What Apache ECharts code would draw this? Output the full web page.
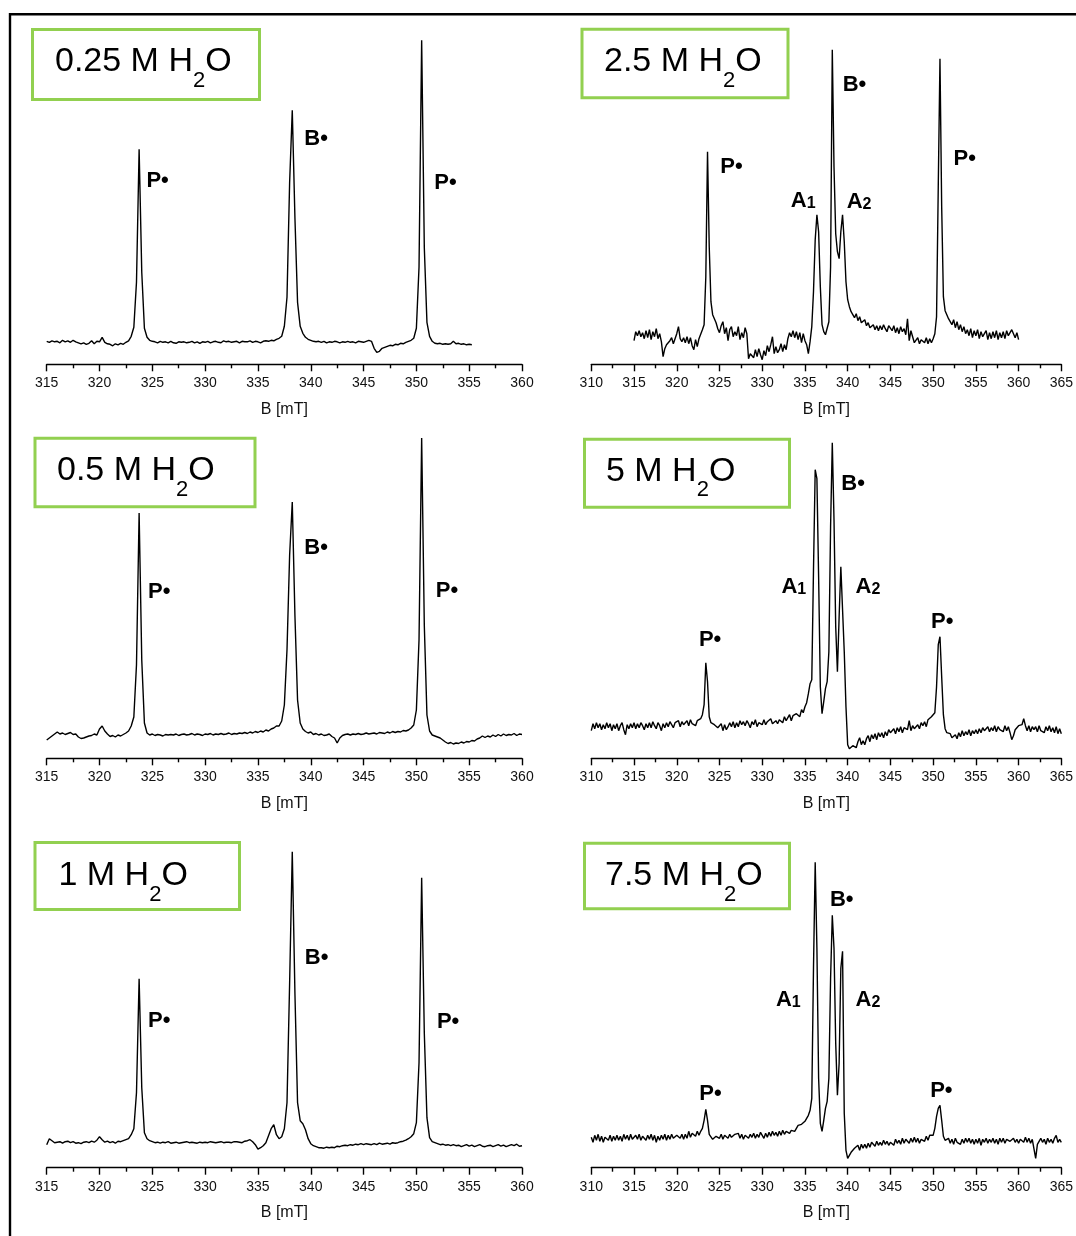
<!DOCTYPE html>
<html>
<head>
<meta charset="utf-8">
<script src="https://cdn.jsdelivr.net/npm/echarts@6/dist/echarts.min.js"></script>
<style>
html,body{margin:0;padding:0;background:#fff;}
#chart{width:1076px;height:1236px;}
</style>
</head>
<body>
<div id="chart"></div>
<script>
// ---------------- DATA (intensities in a.u., baseline = 0) ----------------
// Left-column spectra: sampled every 0.25 mT starting at 315 mT
const field025 = [315, 0.25];
const int025 = [
 1,0,1.5,0.5, 1,-0.5,2,0.5, 1.5,0,2,0.5, -0.5,-1.5,-0.5,-2, -1,1.5,-1.5,1,
 0.5,5,0,-1.5, -2,-3.5,-1.5,-2.5, -1,-2,0,1.5, 6,15,60,193, 70,14,5,2,
 1,0.5,-0.5,1, 0,0.5,-0.5,1, -0.5,-1,0.5,0, 0.5,-0.5,0,1, -0.5,0.5,-1,0.5,
 0,1,-0.5,0.5, 1,0,-0.5,1.5, 0.5,1,0,0.5, 1,-0.5,1,0.5, 0.5,1.5,0,1,
 0.5,-0.5,1,1.5, 1,2,1.5,3, 4,6,16,45, 160,232,125,40, 16,9,5,3,
 2,1,0.5,1, 0,1,-0.5,0.5, 0,1,0.5,-0.5, 0.5,0,1,0, 0.5,-0.5,1,0.5,
 0,1,2,1, -6,-10,-9,-6, -5,-4,-3,-3.5, -2,-2.5,-1,-1.5, 0,1,2,4,
 14,75,302,95, 20,6,1,-1, -1.5,-1,-2,-1.5, -2,-1.5,1,-1.5, -1,-2,-1.5,-2.5,
 -2,-2.5
];
const field05 = [315, 0.25];
const int05 = [
 -5,-3,-1,1, 3,1,2,0.5, 1.5,2.5,0.5,1, -2,-3.5,-3,-2, -1,-0.5,1,0,
 6,9,4,1, -1.5,-0.5,-2,0, -1,0.5,2,4, 9,18,70,222, 75,12,2,0,
 1,-0.5,0.5,0, -1,0.5,0,0.5, 0,1,-0.5,0.5, 1,0,0.5,1.5, 0,1,0.5,-0.5,
 1,0.5,1.5,0, 1,0.5,1.5,0.5, 1,2,0.5,1.5, 1,2,1.5,2.5, 1.5,3,2,3.5,
 2.5,4,3,5, 4,6,7,9, 9,14,30,85, 180,233,120,35, 12,6,3.5,2,
 3,0.5,1.5,0, 1,-0.5,0,1, -1.5,-3,-8,-3, -0.5,0.5,1,0, 1,0.5,1.5,0.5,
 1,2,1,1.5, 2,1,2.5,2, 1.5,3,2,3.5, 2.5,3.5,3,4.5, 4,5,7,10,
 25,95,297,110, 20,4,0,-1, -2,-3,-5,-7, -8.5,-7.5,-9,-8, -8.5,-7,-8,-6.5,
 -7,-5.5,-6,-4, -3,-1,-2.5,-1, -2,0,-1.5,0.5, -1,1,-0.5,0.5, 0,1.5,-0.5,1,
 0.5
];
const field1 = [315, 0.25];
const int1 = [
 -2,4,2,0, 0.5,1,-0.5,1, 1.5,0,1,-0.5, 0,-1,0.5,1, 0,1.5,0.5,2.5,
 6,3,0.5,1.5, 0,1,-0.5,1.5, 1,2,3,4, 8,14,50,164, 55,10,4,2,
 1,0,0.5,-0.5, 0.5,0,1,-0.5, 0,0.5,-0.5,0, 0.5,1,0,0.5, 0,-0.5,0.5,0,
 0.5,0,1,0.5, 0,0.5,1,0, 0.5,0.5,0,1, 1,0.5,0,1.5, 2,3,1,-2,
 -6.5,-5,-3,0, 7,14,18,8, 4,6,14,40, 160,291,150,40, 22,19,13,4,
 -1,-3,-4,-5, -5,-5.5,-4.5,-5, -4.5,-5,-3.5,-4, -3,-2.5,-3,-2, -2.5,-1.5,-2,-1,
 -2,-1,-1.5,-2, -1,-2,-0.5,-1.5, -1,-0.5,-1.5,0, -0.5,0,1,1.5, 2.5,4,6,9,
 20,80,265,110, 25,5,1,0, -1,-2,-1.5,-2.5, -2,-3,-2,-3, -2.5,-4,-3,-2,
 -3.5,-2.5,-4,-3, -2,-3.5,-4,-3, -2.5,-4,-3,-2, -3.5,-2.5,-4,-3, -2,-3,-1.5,-3.5,
 -3
];
// Right-column spectra: sampled every 0.2 mT
const field25 = [315, 0.2];
const int25 = [
 -4,5,1,6,0, 4,-2,6,-1,7, -3,5,0,8,-2, 3,-5,-20,-12,-8, -10,-4,-1,-7,-2,
 3,10,-2,-5,-1, -6,0,-7,-1,-9, -13,-3,-10,-2,0, 7,12,60,185,90, 35,22,18,14,8,
 4,11,15,3,9, -4,7,10,0,5, 1,10,-3,4,-1, 9,3,-22,-17,-16, -21,-13,-20,-12,-18,
 -23,-14,-19,-9,-15, -8,0,-17,-10,-16, -13,-7,-15,-8,-13, -2,4,0,6,-1, 5,-3,4,-6,3,
 -4,-8,-17,-5,10, 45,97,122,105,50, 12,5,2,4,15, 70,287,170,103,85, 78,105,122,95,55,
 37,30,25,27,19, 23,16,20,14,14, 17,11,14,9,10, 12,7,11,6,11, 7,12,8,5,11,
 9,6,11,4,9, 3,10,5,8,2, 18,-4,6,0,-6, -8,-1,-7,-3,-2, -6,-1,-7,-2,-6,
 -2,3,20,150,278, 130,40,26,22,18, 18,12,17,9,15, 7,12,5,10,3, 7,1,8,-1,6,
 1,7,-2,5,0, -1,6,-3,4,-2, 5,-1,6,-3,4, -1,5,-2,6,1, 0,7,8,-1,4,
 -3
];
const field5 = [310, 0.2];
const int5 = [
 -4,3,-2,4,-1, 3,-3,2,-2,4, -1,3,-4,2,-2, 3,-4,1,4,-3, -8,2,-2,3,-1,
 4,-2,3,-1,4, 1,-3,3,-1,4, -1,5,1,-2,4, 1,-4,3,-1,4, 0,5,2,-1,4,
 2,6,0,5,2, 4,6,1,7,3, 5,1,6,7,8, 12,22,64,45,10, 4,6,2,1,-1,
 -2,3,-4,2,-3, 0,4,0,5,-1, 4,0,6,2,5, 1,6,3,-1,5, 2,7,0,4,6,
 2,7,2,5,4, 8,3,1,6,3, 7,9,4,10,6, 8,12,6,11,9, 13,15,10,17,14,
 20,24,33,43,47, 157,257,248,150,40, 13,25,38,45,75, 200,284,207,100,55, 110,160,160,75,20,
 -18,-22,-20,-19,-21, -21,-15,-11,-18,-14, -18,-12,-9,-15,-8, -12,-7,-13,-6,-10, -6,-11,-5,-9,-3,
 -6,-8,-2,-7,-1, -5,0,-6,-1,1, -3,6,-4,1,-2, -3,2,-2,4,1, 5,0,7,8,10,
 10,14,40,82,90, 50,12,-2,-6,-8, -7,-11,-13,-8,-12, -6,-10,-4,-9,-5, -8,-3,-9,-4,-7,
 -3,-7,-2,-6,-1, -4,-6,0,-5,-1, -4,1,-5,0,-3, -1,-5,1,-4,0, -6,-13,-9,-3,-1,
 1,3,2,8,1, -4,1,-5,0,-3, 0,-5,1,-4,-2, -6,0,-4,1,-5, -1,-6,0,-7,-2,
 -7
];
const field75 = [310, 0.2];
const int75 = [
 1,-4,3,-2,4, -3,2,-4,1,3, -2,3,-3,2,-2, 3,-2,2,-3,4, -1,3,-2,4,-1,
 -2,3,-1,4,-2, 2,4,-2,3,-1, 4,-2,3,-4,2, -2,3,-1,4,-2, 3,-1,4,0,-2,
 3,5,0,4,-1, 4,0,7,1,5, 6,2,7,3,7, 10,18,29,18,4, 2,-1,-3,2,4,
 0,4,-1,3,5, 0,4,1,-1,4, 3,5,0,4,-1, 3,5,0,4,1, 5,0,4,1,6,
 4,0,5,1,6, 2,7,3,6,2, 7,3,8,4,7, 9,5,8,10,7, 10,13,15,14,16,
 17,20,23,28,40, 170,276,190,60,15, 7,18,30,37,60, 160,223,190,95,43, 75,170,187,25,-12,
 -20,-17,-14,-12,-10, -11,-7,-12,-6,-10, -6,-10,-5,-9,-4, -6,-8,-3,-7,-4, -7,-2,-6,-3,-7,
 -4,-2,-7,-1,-5, -2,-6,0,-5,-1, -1,-5,0,-4,1, -4,0,-5,-1,1, -3,2,-2,3,5,
 3,10,22,30,33, 18,2,-2,-4,0, -5,-1,-6,0,-4, -2,-6,-1,-5,0, -4,0,-5,-1,-6,
 -1,-5,0,-7,-1, -4,0,-5,-1,-4, 0,-5,-1,-6,0, -4,0,-5,-1,1, -3,-5,0,-4,-1,
 -5,-1,0,-4,1, -4,0,-5,-1,-2, -20,-6,-3,0,-4, -1,-6,0,-4,-1, -5,0,3,-4,-1,
 -4
];
// Peak annotations: [text, B (mT), intensity]
const lab025 = [['P•',325.5,162],['B•',340.5,204],['P•',352.75,160]];
const lab05  = [['P•',325.65,144],['B•',340.5,188],['P•',352.9,145]];
const lab1   = [['P•',325.65,122.7],['B•',340.55,186],['P•',353.0,122]];
const lab25  = [['P•',326.4,170.7],['A1',334.8,136.7],['B•',340.8,252.7],['A2',341.33,135.7],['P•',353.7,179]];
const lab5   = [['P•',323.9,87.7],['A1',333.7,141],['B•',340.63,243.7],['A2',342.38,141],['P•',351.07,106]];
const lab75  = [['P•',323.95,45.3],['A1',333.05,139.3],['B•',339.3,239.3],['A2',342.38,139.3],['P•',350.96,48.3]];
// Sample labels
const titles = ['0.25 M H','2.5 M H','0.5 M H','5 M H','1 M H','7.5 M H'];
const xTicksLeft = [315, 360];
const xTicksRight = [310, 365];
const axisTitle = 'B [mT]';

// ---------------- LAYOUT ----------------
const FONT = '"Liberation Sans", Arial, sans-serif';
const COLS = {
  L: {left: 46.7, width: 475.3, range: xTicksLeft},
  R: {left: 591.3, width: 471.4, range: xTicksRight}
};
const ROW_AXIS_Y = [364.3, 758.3, 1167.7];
const PLOT_H = 345;
const panels = [
  {col:'L', row:0, off:22.0, field:field025, vals:int025, labs:lab025, title:titles[0], box:[32.5,29.5,227,70], tx:55, ty:61},
  {col:'R', row:0, off:27.6, field:field25,  vals:int25,  labs:lab25,  title:titles[1], box:[582,29.2,206,68.5], tx:604, ty:61},
  {col:'L', row:1, off:23.3, field:field05,  vals:int05,  labs:lab05,  title:titles[2], box:[35,438.2,220,68.5], tx:57, ty:470.5},
  {col:'R', row:1, off:31.6, field:field5,   vals:int5,   labs:lab5,   title:titles[3], box:[584.5,439.2,205,68], tx:606, ty:470.8},
  {col:'L', row:2, off:25.0, field:field1,   vals:int1,   labs:lab1,   title:titles[4], box:[35,842.5,204.5,67], tx:58.5, ty:875},
  {col:'R', row:2, off:29.4, field:field75,  vals:int75,  labs:lab75,  title:titles[5], box:[584.5,843.2,205,65.5], tx:605, ty:875}
];

const grids=[], xAxes=[], yAxes=[], series=[], graphics=[];
const ctx = document.createElement('canvas').getContext('2d');
const MAIN_FS = 34, SUB_FS = 22;

panels.forEach((p,i)=>{
  const c = COLS[p.col];
  const axisY = ROW_AXIS_Y[p.row];
  grids.push({left:c.left, width:c.width, top:axisY-PLOT_H, height:PLOT_H, containLabel:false});
  xAxes.push({
    type:'value', gridIndex:i, min:c.range[0], max:c.range[1], interval:5,
    axisLine:{onZero:false, lineStyle:{color:'#000', width:1.4}},
    axisTick:{show:true, length:7, lineStyle:{color:'#000', width:1.4}},
    minorTick:{show:true, splitNumber:2, length:4, lineStyle:{color:'#000', width:1.4}},
    splitLine:{show:false}, minorSplitLine:{show:false},
    axisLabel:{color:'#111', fontSize:14, fontFamily:FONT, margin:12},
    name:axisTitle, nameLocation:'middle', nameGap:37,
    nameTextStyle:{color:'#111', fontSize:16, fontFamily:FONT}
  });
  yAxes.push({type:'value', gridIndex:i, show:false, min:-p.off, max:PLOT_H-p.off});
  const start = p.field[0], step = p.field[1];
  series.push({
    type:'line', xAxisIndex:i, yAxisIndex:i, showSymbol:false, symbol:'none',
    data:p.vals.map((v,k)=>[start+step*k, v]),
    lineStyle:{color:'#000', width:1.4}, animation:false, silent:true
  });
  // green sample box
  const b = p.box;
  graphics.push({type:'rect', shape:{x:b[0], y:b[1], width:b[2], height:b[3]},
    style:{fill:'none', stroke:'#92D050', lineWidth:3}, silent:true});
  ctx.font = MAIN_FS+'px "Liberation Sans"';
  const w1 = ctx.measureText(p.title).width;
  ctx.font = SUB_FS+'px "Liberation Sans"';
  const w2 = ctx.measureText('2').width;
  graphics.push({type:'text', x:p.tx, y:p.ty+0.4, silent:true,
    style:{text:p.title, font:MAIN_FS+'px '+FONT, fill:'#000', align:'left', verticalAlign:'middle'}});
  graphics.push({type:'text', x:p.tx+w1, y:p.ty+19.5, silent:true,
    style:{text:'2', font:SUB_FS+'px '+FONT, fill:'#000', align:'left', verticalAlign:'middle'}});
  graphics.push({type:'text', x:p.tx+w1+w2, y:p.ty+0.4, silent:true,
    style:{text:'O', font:MAIN_FS+'px '+FONT, fill:'#000', align:'left', verticalAlign:'middle'}});
});
// outer frame (left and top edges visible)
graphics.push({type:'rect', shape:{x:10, y:14.3, width:1200, height:1400},
  style:{fill:'none', stroke:'#000', lineWidth:2.4}, silent:true});

const chart = echarts.init(document.getElementById('chart'), null, {renderer:'canvas'});
chart.setOption({
  animation:false,
  backgroundColor:'#fff',
  textStyle:{fontFamily:FONT},
  grid:grids, xAxis:xAxes, yAxis:yAxes, series:series, graphic:graphics
});

// peak annotations positioned through the axes' scales
const RICH = {
  b:{fontSize:22, fontWeight:'bold', fontFamily:FONT, fill:'#000', lineHeight:24, verticalAlign:'bottom'},
  s:{fontSize:16, fontWeight:'bold', fontFamily:FONT, fill:'#000', lineHeight:17, verticalAlign:'bottom'}
};
const labelGraphics = graphics.slice();
panels.forEach((p,i)=>{
  p.labs.forEach(l=>{
    const pt = chart.convertToPixel({xAxisIndex:i, yAxisIndex:i}, [l[1], l[2]]);
    const t = l[0];
    const txt = t[0]==='A' ? '{b|A}{s|'+t.slice(1)+'}' : '{b|'+t+'}';
    labelGraphics.push({type:'text', x:pt[0], y:pt[1], silent:true,
      style:{text:txt, rich:RICH, fill:'#000', align:'center', verticalAlign:'middle'}});
  });
});
chart.setOption({graphic:labelGraphics});
</script>
</body>
</html>
